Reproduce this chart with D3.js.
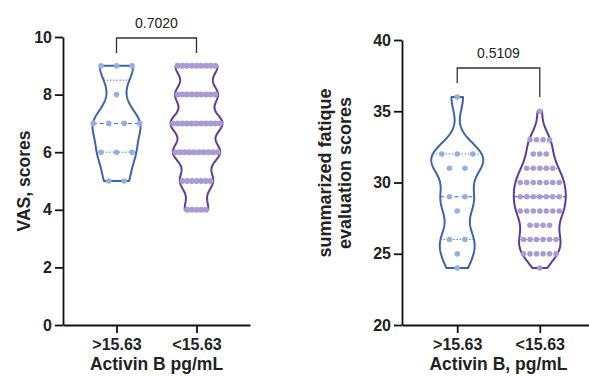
<!DOCTYPE html>
<html><head><meta charset="utf-8">
<script src="https://cdn.jsdelivr.net/npm/d3@7"></script>
<style>body{margin:0;background:#fff}svg{display:block}text{font-family:"Liberation Sans",Arial,sans-serif}</style>
</head><body><svg id="c" width="589" height="376"></svg>
<script>
// ---- data ----
const categories = [">15.63", "<15.63"];
// VAS scores: values (levels) and number of patients at each level
const vasLevels = [9, 8, 7, 6, 5, 4];
const vasHighCounts = [3, 1, 4, 3, 2, 0];
const vasLowCounts  = [9, 9, 11, 10, 7, 5];
// summarized fatigue evaluation scores
const fatLevels = [36, 35, 33, 32, 31, 30, 29, 28, 27, 26, 25, 24];
const fatHighCounts = [1, 0, 0, 3, 2, 0, 2, 1, 0, 2, 1, 1];
const fatLowCounts  = [0, 1, 4, 3, 5, 7, 7, 7, 4, 6, 6, 1];
const vasTicks = [0, 2, 4, 6, 8, 10];
const fatTicks = [20, 25, 30, 35, 40];
const pValues = ["0.7020", "0.5109"];
const xTitles = ["Activin B pg/mL", "Activin B, pg/mL"];
const yTitles = [["VAS, scores"], ["summarized fatique", "evaluation scores"]];

const blue = {line: "#3d64ab", dot: "#97afdf"};
const purple = {line: "#5a3d97", dot: "#aa9bd3"};

function expand(levels, counts) {
  const out = [];
  levels.forEach((v, i) => { for (let k = 0; k < counts[i]; k++) out.push(v); });
  return out.sort((a, b) => a - b);
}
function q(sorted, p) { // (n+1)p method
  const pos = (sorted.length + 1) * p - 1;
  const lo = Math.floor(pos), hi = Math.ceil(pos);
  return sorted[lo] + (sorted[hi] - sorted[lo]) * (pos - lo);
}

const svg = d3.select("#c");

function panel(cfg) {
  const y = d3.scaleLinear().domain(cfg.domain).range([325, cfg.top]);
  const x = d3.scalePoint().domain(categories).range([cfg.left, cfg.right]).padding(0.669);
  const g = svg.append("g");

  // violins
  cfg.groups.forEach((gr, gi) => {
    const data = expand(cfg.levels, gr.counts);
    const cx = x(categories[gi]);
    const mn = d3.min(data), mx = d3.max(data);
    const dens = v => d3.sum(data, d => Math.exp(-0.5 * ((v - d) / gr.bw) ** 2));
    const vs = d3.range(mn, mx + 1e-9, (mx - mn) / 200);
    const maxD = d3.max(vs, dens);
    const hw = v => dens(v) / maxD * gr.maxW;
    const pts = vs.map(v => [v, hw(v)]);
    const area = d3.line().x(d => d[0]).y(d => d[1]);
    const right = pts.map(p => [cx + p[1], y(p[0])]);
    const left = pts.slice().reverse().map(p => [cx - p[1], y(p[0])]);
    g.append("path").attr("d", area(right.concat(left)) + "Z")
      .attr("fill", "none").attr("stroke", gr.color.line).attr("stroke-width", 2).attr("stroke-linejoin", "round");
    // quartile lines
    [[0.25, "1.2,2"], [0.5, "4,3"], [0.75, "1.2,2"]].forEach(([p, dash]) => {
      const v = q(data, p), w = hw(v);
      g.append("line").attr("x1", cx - w).attr("x2", cx + w).attr("y1", y(v)).attr("y2", y(v))
        .attr("stroke", gr.color.line).attr("stroke-width", 1).attr("stroke-dasharray", dash);
    });
    // dots
    cfg.levels.forEach((lv, li) => {
      const n = gr.counts[li];
      for (let k = 0; k < n; k++) {
        g.append("circle").attr("cx", cx + (k - (n - 1) / 2) * gr.sp).attr("cy", y(lv)).attr("r", gr.r)
          .attr("fill", gr.color.dot);
      }
    });
  });

  // axes
  const ya = g.append("g").attr("transform", `translate(${cfg.left},0)`)
    .call(d3.axisLeft(y).tickValues(cfg.ticks).tickSize(8).tickSizeOuter(0).tickPadding(3));
  const xa = g.append("g").attr("transform", `translate(0,325)`)
    .call(d3.axisBottom(x).tickSize(8).tickSizeOuter(0).tickPadding(6));
  [ya, xa].forEach(a => {
    a.select(".domain").attr("stroke", "#111").attr("stroke-width", 1.8);
    a.selectAll(".tick line").attr("stroke", "#111").attr("stroke-width", 1.8);
    a.selectAll(".tick text").attr("fill", "#222").attr("font-size", 16).attr("font-weight", "bold")
      .attr("font-family", '"Liberation Sans",Arial,sans-serif');
  });
  g.append("text").attr("x", (x(categories[0]) + x(categories[1])) / 2).attr("y", 370)
    .attr("text-anchor", "middle").attr("font-size", 17.5).attr("font-weight", "bold").attr("fill", "#222")
    .text(cfg.xTitle);
  const yt = g.append("text").attr("transform", `translate(${cfg.ytX},${cfg.ytY}) rotate(-90)`)
    .attr("text-anchor", "middle").attr("font-size", cfg.ytSize).attr("font-weight", "bold").attr("fill", "#222");
  cfg.yTitle.forEach((t, i) => yt.append("tspan").attr("x", 0).attr("dy", i === 0 ? 0 : 20).text(t));

  // bracket
  const x0 = x(categories[0]), x1 = x(categories[1]);
  g.append("path").attr("d", `M${x0},${cfg.br[1]}V${cfg.br[0]}H${x1}V${cfg.br[2]}`)
    .attr("fill", "none").attr("stroke", "#333").attr("stroke-width", 1.3);
  g.append("text").attr("x", (x0 + x1) / 2).attr("y", cfg.br[0] - 10).attr("text-anchor", "middle")
    .attr("font-size", 14).attr("fill", "#222").text(cfg.p);
}

panel({domain: [0, 10], top: 37, left: 63, right: 250, ticks: vasTicks, levels: vasLevels,
  groups: [{counts: vasHighCounts, color: blue, bw: 0.5, maxW: 24, sp: 15.5, r: 2.8},
           {counts: vasLowCounts, color: purple, bw: 0.37, maxW: 26, sp: 4.7, r: 3}],
  xTitle: xTitles[0], yTitle: yTitles[0], ytX: 30, ytY: 181, ytSize: 17.5, br: [38, 53, 53], p: pValues[0]});
panel({domain: [20, 40], top: 40, left: 402, right: 595, ticks: fatTicks, levels: fatLevels,
  groups: [{counts: fatHighCounts, color: blue, bw: 1.0, maxW: 26, sp: 15.5, r: 2.8},
           {counts: fatLowCounts, color: purple, bw: 0.8, maxW: 26, sp: 6.5, r: 2.8}],
  xTitle: xTitles[1], yTitle: yTitles[1], ytX: 331, ytY: 173, ytSize: 18, br: [68, 83, 97], p: pValues[1]});
</script></body></html>
